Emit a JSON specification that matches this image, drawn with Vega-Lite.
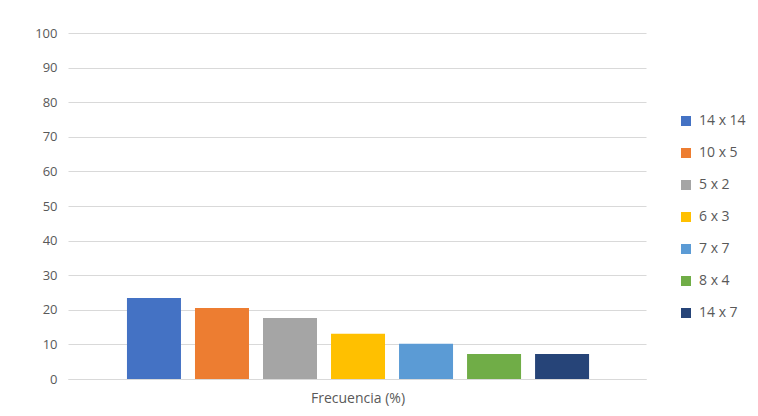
{
  "$schema": "https://vega.github.io/schema/vega-lite/v6.json",
  "width": 578,
  "height": 346,
  "autosize": {"type": "none"},
  "padding": {"left": 68, "top": 33, "right": 112, "bottom": 37},
  "background": "white",
  "data": {"values": [
    {"cat": "Frecuencia (%)", "serie": "14 x 14", "valor": 23.4},
    {"cat": "Frecuencia (%)", "serie": "10 x 5", "valor": 20.5},
    {"cat": "Frecuencia (%)", "serie": "5 x 2", "valor": 17.6},
    {"cat": "Frecuencia (%)", "serie": "6 x 3", "valor": 13.1},
    {"cat": "Frecuencia (%)", "serie": "7 x 7", "valor": 10.2},
    {"cat": "Frecuencia (%)", "serie": "8 x 4", "valor": 7.2},
    {"cat": "Frecuencia (%)", "serie": "14 x 7", "valor": 7.2}
  ]},
  "mark": {"type": "bar"},
  "encoding": {
    "x": {"field": "cat", "type": "nominal",
      "scale": {"paddingInner": 0, "paddingOuter": 0.107, "align": 0.51},
      "axis": {"title": null, "labelAngle": 0, "ticks": false, "domain": true, "domainColor": "#d9d9d9", "labelPadding": 12, "labelFontSize": 14, "labelColor": "#595959"}},
    "xOffset": {"field": "serie", "type": "nominal",
      "sort": ["14 x 14", "10 x 5", "5 x 2", "6 x 3", "7 x 7", "8 x 4", "14 x 7"],
      "scale": {"paddingInner": 0.206, "paddingOuter": 0.103}},
    "y": {"field": "valor", "type": "quantitative",
      "scale": {"domain": [0, 100], "nice": false},
      "axis": {"title": null, "values": [0,10,20,30,40,50,60,70,80,90,100], "domain": false, "ticks": false, "labelPadding": 11, "gridColor": "#d9d9d9", "labelFontSize": 13, "labelColor": "#595959"}},
    "color": {"field": "serie", "type": "nominal",
      "sort": ["14 x 14", "10 x 5", "5 x 2", "6 x 3", "7 x 7", "8 x 4", "14 x 7"],
      "scale": {"domain": ["14 x 14", "10 x 5", "5 x 2", "6 x 3", "7 x 7", "8 x 4", "14 x 7"],
        "range": ["#4472C4", "#ED7D31", "#A5A5A5", "#FFC000", "#5B9BD5", "#70AD47", "#264478"]},
      "legend": {"title": null, "orient": "none", "legendX": 611, "legendY": 81, "symbolType": "square", "symbolSize": 100, "symbolStrokeWidth": 0, "rowPadding": 18, "labelFontSize": 14, "labelColor": "#595959", "labelOffset": 6}}
  },
  "config": {
    "font": "Open Sans",
    "view": {"stroke": null},
    "axis": {"labelFont": "Open Sans"},
    "legend": {"labelFont": "Open Sans"}
  }
}
